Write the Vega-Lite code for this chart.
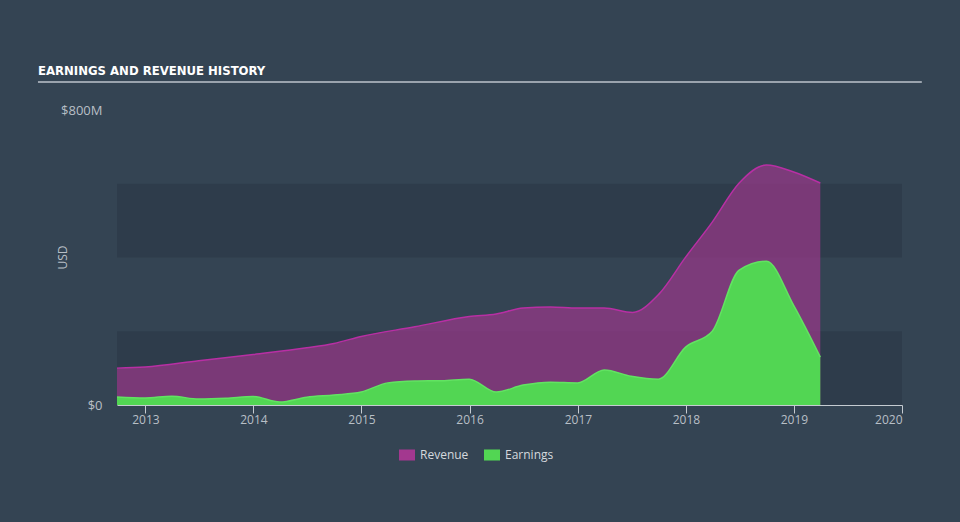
{
  "$schema": "https://vega.github.io/schema/vega-lite/v6.json",
  "width": 785,
  "height": 295,
  "autosize": {"type": "none"},
  "padding": {"left": 117, "top": 110, "right": 58, "bottom": 117},
  "background": "#344453",
  "config": {"view": {"stroke": null}, "font": "Open Sans"},
  "title": {
    "text": "EARNINGS AND REVENUE HISTORY",
    "anchor": "start",
    "frame": "group",
    "font": "'DejaVu Sans Condensed', 'Liberation Sans Narrow', sans-serif",
    "fontWeight": "bold",
    "fontSize": 13,
    "color": "#ffffff",
    "baseline": "alphabetic",
    "dx": -79,
    "dy": 34,
    "offset": 27
  },
  "datasets": {
    "bands": [
      {"lo": 0, "hi": 200},
      {"lo": 400, "hi": 600}
    ],
    "history": [
      {"date": "2012-09-27", "series": "Revenue", "value": 100},
      {"date": "2012-12-31", "series": "Revenue", "value": 103},
      {"date": "2013-06-30", "series": "Revenue", "value": 120},
      {"date": "2013-12-31", "series": "Revenue", "value": 137},
      {"date": "2014-06-30", "series": "Revenue", "value": 155},
      {"date": "2014-09-30", "series": "Revenue", "value": 167},
      {"date": "2014-12-31", "series": "Revenue", "value": 186},
      {"date": "2015-06-30", "series": "Revenue", "value": 212},
      {"date": "2015-12-31", "series": "Revenue", "value": 240},
      {"date": "2016-03-31", "series": "Revenue", "value": 247},
      {"date": "2016-06-30", "series": "Revenue", "value": 263},
      {"date": "2016-09-30", "series": "Revenue", "value": 266},
      {"date": "2016-12-31", "series": "Revenue", "value": 263},
      {"date": "2017-03-31", "series": "Revenue", "value": 263},
      {"date": "2017-07-05", "series": "Revenue", "value": 251},
      {"date": "2017-10-01", "series": "Revenue", "value": 300},
      {"date": "2017-12-31", "series": "Revenue", "value": 401},
      {"date": "2018-03-31", "series": "Revenue", "value": 496},
      {"date": "2018-06-30", "series": "Revenue", "value": 602},
      {"date": "2018-09-30", "series": "Revenue", "value": 651},
      {"date": "2018-12-31", "series": "Revenue", "value": 632},
      {"date": "2019-03-31", "series": "Revenue", "value": 602},
      {"date": "2012-09-27", "series": "Earnings", "value": 22},
      {"date": "2012-12-31", "series": "Earnings", "value": 19},
      {"date": "2013-03-31", "series": "Earnings", "value": 24},
      {"date": "2013-06-30", "series": "Earnings", "value": 16},
      {"date": "2013-09-30", "series": "Earnings", "value": 18},
      {"date": "2013-12-31", "series": "Earnings", "value": 23},
      {"date": "2014-03-31", "series": "Earnings", "value": 8},
      {"date": "2014-06-30", "series": "Earnings", "value": 21},
      {"date": "2014-09-30", "series": "Earnings", "value": 27},
      {"date": "2014-12-31", "series": "Earnings", "value": 35},
      {"date": "2015-03-31", "series": "Earnings", "value": 60},
      {"date": "2015-06-30", "series": "Earnings", "value": 65},
      {"date": "2015-09-30", "series": "Earnings", "value": 66},
      {"date": "2015-12-31", "series": "Earnings", "value": 70},
      {"date": "2016-03-31", "series": "Earnings", "value": 35},
      {"date": "2016-06-30", "series": "Earnings", "value": 54},
      {"date": "2016-09-30", "series": "Earnings", "value": 62},
      {"date": "2016-12-31", "series": "Earnings", "value": 60},
      {"date": "2017-03-31", "series": "Earnings", "value": 95},
      {"date": "2017-06-30", "series": "Earnings", "value": 78},
      {"date": "2017-09-30", "series": "Earnings", "value": 70},
      {"date": "2017-12-31", "series": "Earnings", "value": 157},
      {"date": "2018-03-31", "series": "Earnings", "value": 200},
      {"date": "2018-06-30", "series": "Earnings", "value": 366},
      {"date": "2018-09-30", "series": "Earnings", "value": 390},
      {"date": "2018-12-31", "series": "Earnings", "value": 270},
      {"date": "2019-03-31", "series": "Earnings", "value": 130}
    ]
  },
  "layer": [
    {
      "data": {"name": "bands"},
      "mark": {"type": "rect", "color": "#2e3c4b"},
      "encoding": {
        "y": {"field": "lo", "type": "quantitative", "scale": {"domain": [0, 800]}},
        "y2": {"field": "hi"}
      }
    },
    {
      "data": {"name": "history"},
      "transform": [{"filter": "datum.series === 'Revenue'"}],
      "mark": {"type": "area", "interpolate": "monotone", "opacity": 0.65},
      "encoding": {
        "x": {"field": "date", "type": "temporal"},
        "y": {"field": "value", "type": "quantitative", "stack": null},
        "color": {"field": "series", "type": "nominal"}
      }
    },
    {
      "data": {"name": "history"},
      "transform": [{"filter": "datum.series === 'Revenue'"}],
      "mark": {"type": "line", "interpolate": "monotone", "color": "#b82fa4", "strokeWidth": 1.5},
      "encoding": {
        "x": {"field": "date", "type": "temporal"},
        "y": {"field": "value", "type": "quantitative"}
      }
    },
    {
      "data": {"name": "history"},
      "transform": [{"filter": "datum.series === 'Earnings'"}],
      "mark": {"type": "area", "interpolate": "monotone", "opacity": 1},
      "encoding": {
        "x": {"field": "date", "type": "temporal"},
        "y": {"field": "value", "type": "quantitative", "stack": null},
        "color": {"field": "series", "type": "nominal"}
      }
    },
    {
      "data": {"name": "history"},
      "transform": [{"filter": "datum.series === 'Earnings'"}],
      "mark": {"type": "line", "interpolate": "monotone", "color": "#62e362", "strokeWidth": 1.5},
      "encoding": {
        "x": {"field": "date", "type": "temporal"},
        "y": {"field": "value", "type": "quantitative"}
      }
    },
    {
      "data": {"values": [{}]},
      "mark": {"type": "rule", "clip": false, "color": "#9aa3ad", "strokeWidth": 2},
      "encoding": {
        "x": {"datum": {"year": 2012, "month": 1, "date": 4, "utc": true}, "type": "temporal"},
        "x2": {"datum": {"year": 2020, "month": 3, "date": 8, "utc": true}},
        "y": {"datum": 876, "type": "quantitative"}
      }
    }
  ],
  "resolve": {"scale": {"x": "shared", "y": "shared"}},
  "encoding": {
    "x": {
      "type": "temporal",
      "scale": {
        "type": "utc",
        "domain": [
          {"year": 2012, "month": 9, "date": 27, "utc": true},
          {"year": 2020, "month": 1, "date": 1, "utc": true}
        ]
      },
      "axis": {
        "title": null,
        "format": "%Y",
        "values": [
          {"year": 2013, "month": 1, "date": 1, "utc": true},
          {"year": 2014, "month": 1, "date": 1, "utc": true},
          {"year": 2015, "month": 1, "date": 1, "utc": true},
          {"year": 2016, "month": 1, "date": 1, "utc": true},
          {"year": 2017, "month": 1, "date": 1, "utc": true},
          {"year": 2018, "month": 1, "date": 1, "utc": true},
          {"year": 2019, "month": 1, "date": 1, "utc": true},
          {"year": 2020, "month": 1, "date": 1, "utc": true}
        ],
        "grid": false,
        "domainColor": "#c5cbd1",
        "tickColor": "#c5cbd1",
        "tickSize": 8,
        "labelColor": "#b8bfc6",
        "labelFontSize": 12,
        "labelPadding": 1,
        "labelFlush": true
      }
    },
    "y": {
      "type": "quantitative",
      "scale": {"domain": [0, 800]},
      "axis": {
        "title": "USD",
        "titleColor": "#b8bfc6",
        "titleFontSize": 12,
        "titleFontWeight": "normal",
        "titleX": -55,
        "titleY": 147,
        "titleAngle": -90,
        "titleAlign": "center",
        "titleBaseline": "middle",
        "values": [0, 800],
        "labelExpr": "datum.value === 0 ? '$0' : '$' + datum.value + 'M'",
        "domain": false,
        "ticks": false,
        "grid": false,
        "labelColor": "#b8bfc6",
        "labelFontSize": 13,
        "labelPadding": 15
      }
    },
    "color": {
      "type": "nominal",
      "scale": {"domain": ["Revenue", "Earnings"], "range": ["#a3388f", "#52d653"]},
      "legend": {
        "title": null,
        "orient": "none",
        "direction": "horizontal",
        "legendX": 282,
        "legendY": 337,
        "padding": 0,
        "symbolType": "M-1,-0.69H1V0.69H-1Z",
        "symbolSize": 256,
        "symbolOpacity": 1,
        "symbolStrokeWidth": 0,
        "labelColor": "#d5d9dd",
        "labelFontSize": 12,
        "labelOffset": 5,
        "columnPadding": 15
      }
    }
  }
}
